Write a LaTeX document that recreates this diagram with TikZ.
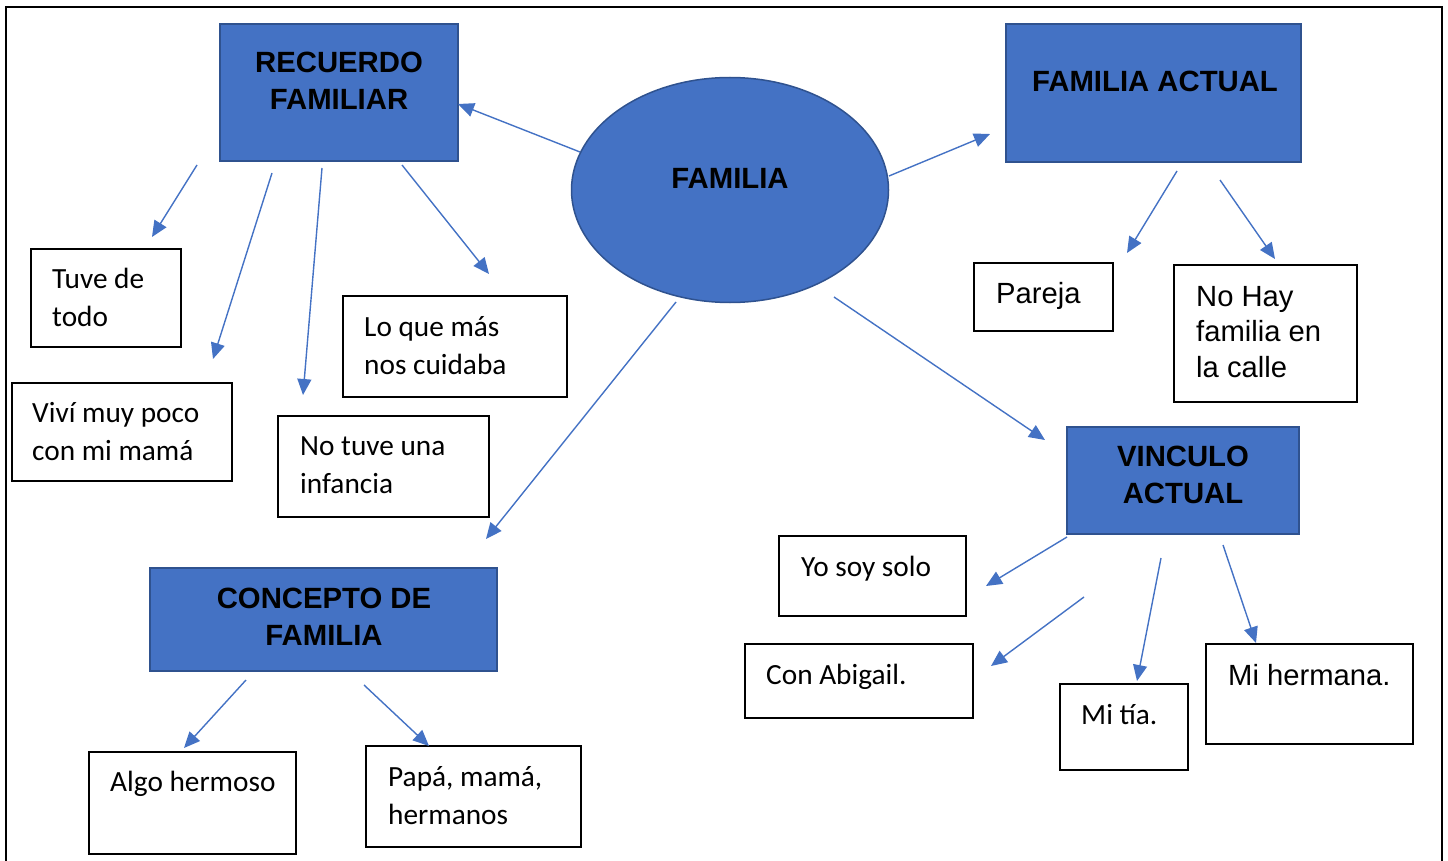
\documentclass[tikz,border=0pt]{standalone}
\usepackage{fontspec}
\setmainfont{Carlito}
\newfontfamily\arialfont{Liberation Sans}
\usetikzlibrary{calc, shapes, arrows.meta}
\definecolor{officeblue}{HTML}{4472C4}
\definecolor{officedark}{HTML}{2F528F}

\begin{document}
\begin{tikzpicture}[x=1pt, y=-1pt,
	headbox/.style={rectangle, draw=officedark, line width=1.5pt, fill=officeblue, inner sep=0pt},
	whitebox/.style={rectangle, draw=black, line width=1.8pt, fill=white, inner sep=0pt},
	headtext/.style={font=\arialfont\bfseries\fontsize{29.3}{37}\selectfont, align=center, inner sep=0pt},
	bodytext/.style={font=\fontsize{29.3}{37.5}\selectfont, align=left, inner sep=0pt},
	arialtext/.style={font=\arialfont\fontsize{29.2}{35.5}\selectfont, align=left, inner sep=0pt},
	linkarrow/.style={draw=officeblue, line width=1.4pt, -{Triangle[length=16pt, width=14pt]}}]
				\useasboundingbox (0,0) rectangle (1448,861);
				%Outer frame, open at the bottom
				\draw[line width=2pt] (6,880) -- (6,7) -- (1442,7) -- (1442,880);
				%Centre
				\node[ellipse, draw=officedark, line width=1.5pt, fill=officeblue, minimum width=317, minimum height=225, inner sep=0pt] (familia) at (730,190) {};
				\node[headtext, anchor=base] (familiatxt) at (730,189) {FAMILIA};
				%Main boxes (text placed at the baseline of its last line)
				\node[headbox, minimum width=238, minimum height=137] (rec) at (339,92.5) {};
				\node[headtext, anchor=base] (rectxt) at (339,110) {RECUERDO\\FAMILIAR};
				\node[headbox, minimum width=295, minimum height=138] (act) at (1153.5,93) {};
				\node[headtext, anchor=base] (acttxt) at (1155,92) {FAMILIA ACTUAL};
				\node[headbox, minimum width=232, minimum height=107] (vin) at (1183,480.5) {};
				\node[headtext, anchor=base] (vintxt) at (1183,503) {VINCULO\\ACTUAL};
				\node[headbox, minimum width=347, minimum height=103] (con) at (323.5,619.5) {};
				\node[headtext, anchor=base] (contxt) at (324,645) {CONCEPTO DE\\FAMILIA};
				%Boxes under RECUERDO FAMILIAR
				\node[whitebox, minimum width=150, minimum height=98] (tuve) at (106,298) {};
				\node[bodytext, anchor=base west] (tuvetxt) at (52,326) {Tuve de\\todo};
				\node[whitebox, minimum width=220, minimum height=98] (vivi) at (122,432) {};
				\node[bodytext, anchor=base west] (vivitxt) at (32,460) {Viví muy poco\\con mi mamá};
				\node[whitebox, minimum width=224, minimum height=101] (loque) at (455,346.5) {};
				\node[bodytext, anchor=base west] (loquetxt) at (364,374) {Lo que más\\nos cuidaba};
				\node[whitebox, minimum width=211, minimum height=101] (notuve) at (383.5,466.5) {};
				\node[bodytext, anchor=base west] (notuvetxt) at (300,493) {No tuve una\\infancia};
				%Boxes under FAMILIA ACTUAL
				\node[whitebox, minimum width=139, minimum height=68] (pareja) at (1043.5,297) {};
				\node[arialtext, anchor=base west] (parejatxt) at (996,303) {Pareja};
				\node[whitebox, minimum width=183, minimum height=137] (nohay) at (1265.5,333.5) {};
				\node[arialtext, anchor=base west] (nohaytxt) at (1196,377) {No Hay\\familia en\\la calle};
				%Boxes under VINCULO ACTUAL
				\node[whitebox, minimum width=187, minimum height=80] (yosoy) at (872.5,576) {};
				\node[bodytext, anchor=base west] (yosoytxt) at (801,576) {Yo soy solo};
				\node[whitebox, minimum width=228, minimum height=74] (abigail) at (859,681) {};
				\node[bodytext, anchor=base west] (abigailtxt) at (766,684) {Con Abigail.};
				\node[whitebox, minimum width=128, minimum height=86] (tia) at (1124,727) {};
				\node[bodytext, anchor=base west] (tiatxt) at (1081,724) {Mi tía.};
				\node[whitebox, minimum width=207, minimum height=100] (hermana) at (1309.5,694) {};
				\node[arialtext, anchor=base west] (hermanatxt) at (1228,685) {Mi hermana.};
				%Boxes under CONCEPTO DE FAMILIA
				\node[whitebox, minimum width=207, minimum height=102] (algo) at (192.5,803) {};
				\node[bodytext, anchor=base west] (algotxt) at (110,791) {Algo hermoso};
				\node[whitebox, minimum width=215, minimum height=101] (papa) at (473.5,796.5) {};
				\node[bodytext, anchor=base west] (papatxt) at (388,824) {Papá, mamá,\\hermanos};
				%Arrow ends
				\coordinate (fam-rec) at (580,152);
				\coordinate (rec-in) at (458,104);
				\coordinate (fam-act) at (889,176);
				\coordinate (act-in) at (990,134);
				\coordinate (fam-con) at (676,302);
				\coordinate (con-in) at (486,539);
				\coordinate (fam-vin) at (834,297);
				\coordinate (vin-in) at (1045,440);
				\coordinate (rec-tuve) at (197,165);
				\coordinate (tuve-in) at (152,237);
				\coordinate (rec-vivi) at (272,173);
				\coordinate (vivi-in) at (213,359);
				\coordinate (rec-notuve) at (322,168);
				\coordinate (notuve-in) at (303,395);
				\coordinate (rec-loque) at (402,165);
				\coordinate (loque-in) at (489,274);
				\coordinate (act-pareja) at (1177,171);
				\coordinate (pareja-in) at (1127,253);
				\coordinate (act-nohay) at (1220,180);
				\coordinate (nohay-in) at (1275,259);
				\coordinate (vin-yosoy) at (1067,537);
				\coordinate (yosoy-in) at (986,586);
				\coordinate (vin-abigail) at (1084,597);
				\coordinate (abigail-in) at (991,666);
				\coordinate (vin-tia) at (1161,558);
				\coordinate (tia-in) at (1137,681);
				\coordinate (vin-hermana) at (1223,545);
				\coordinate (hermana-in) at (1256,643);
				\coordinate (con-algo) at (246,680);
				\coordinate (algo-in) at (184,748);
				\coordinate (con-papa) at (364,685);
				\coordinate (papa-in) at (429,746);
				%Arrows
				\draw[linkarrow] (fam-rec) -- (rec-in);
				\draw[linkarrow] (fam-act) -- (act-in);
				\draw[linkarrow] (fam-con) -- (con-in);
				\draw[linkarrow] (fam-vin) -- (vin-in);
				\draw[linkarrow] (rec-tuve) -- (tuve-in);
				\draw[linkarrow] (rec-vivi) -- (vivi-in);
				\draw[linkarrow] (rec-notuve) -- (notuve-in);
				\draw[linkarrow] (rec-loque) -- (loque-in);
				\draw[linkarrow] (act-pareja) -- (pareja-in);
				\draw[linkarrow] (act-nohay) -- (nohay-in);
				\draw[linkarrow] (vin-yosoy) -- (yosoy-in);
				\draw[linkarrow] (vin-abigail) -- (abigail-in);
				\draw[linkarrow] (vin-tia) -- (tia-in);
				\draw[linkarrow] (vin-hermana) -- (hermana-in);
				\draw[linkarrow] (con-algo) -- (algo-in);
				\draw[linkarrow] (con-papa) -- (papa-in);
\end{tikzpicture}
\end{document}
